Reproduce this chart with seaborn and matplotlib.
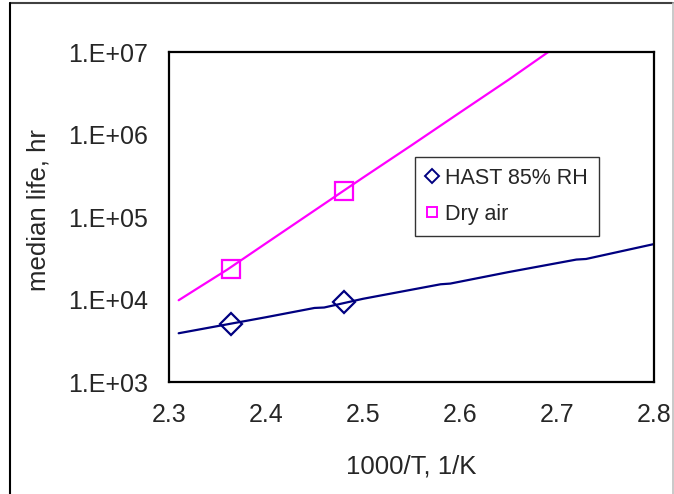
import matplotlib

matplotlib.use("Agg")
import matplotlib.pyplot as plt
import numpy as np
import seaborn as sns
from matplotlib.lines import Line2D
from matplotlib.ticker import FixedLocator, FuncFormatter, LogLocator, NullLocator

# model curves
hast_x = [2.31, 2.36, 2.40, 2.45, 2.46, 2.50, 2.58, 2.59, 2.65, 2.72, 2.73, 2.80]
hast_y = [3.9e3, 5.0e3, 6.1e3, 7.9e3, 8.0e3, 1.02e4, 1.53e4, 1.56e4, 2.15e4, 3.05e4, 3.1e4, 4.7e4]
dry_x = [2.31, 2.33, 2.36, 2.40, 2.45, 2.50, 2.55, 2.60, 2.65, 2.691]
dry_y = [9.8e3, 1.38e4, 2.3e4, 4.8e4, 1.2e5, 3.0e5, 7.4e5, 1.85e6, 4.6e6, 1.0e7]

# measured points
hast_pts_x = [2.364, 2.480]
hast_pts_y = [5.05e3, 9.3e3]
dry_pts_x = [2.364, 2.480]
dry_pts_y = [2.34e4, 2.07e5]

NAVY = "#000080"
MAGENTA = "#FF00FF"
FS_TICK = 18
FS_LABEL = 18.5
FS_LEGEND = 15.5

sns.set_style("white")
plt.rcParams["font.family"] = ["Liberation Sans", "DejaVu Sans"]

fig = plt.figure(figsize=(6.74, 4.94), dpi=100)
ax = fig.add_axes([0.2507, 0.2267, 0.7196, 0.668])

sns.lineplot(x=hast_x, y=hast_y, color=NAVY, linewidth=1.6, ax=ax, sort=False)
sns.lineplot(x=dry_x, y=dry_y, color=MAGENTA, linewidth=1.6, ax=ax, sort=False)
ax.plot(hast_pts_x, hast_pts_y, linestyle="none", marker="D", markersize=11,
        markerfacecolor="none", markeredgecolor=NAVY, markeredgewidth=1.6)
ax.plot(dry_pts_x, dry_pts_y, linestyle="none", marker="s", markersize=13,
        markerfacecolor="none", markeredgecolor=MAGENTA, markeredgewidth=1.6)

ax.set_yscale("log")
ax.set_xlim(2.3, 2.8)
ax.set_ylim(1e3, 1e7)
ax.xaxis.set_major_locator(FixedLocator([2.3, 2.4, 2.5, 2.6, 2.7, 2.8]))
ax.xaxis.set_minor_locator(NullLocator())
ax.xaxis.set_major_formatter(FuncFormatter(lambda v, p: f"{v:.1f}"))
ax.yaxis.set_major_locator(FixedLocator([1e3, 1e4, 1e5, 1e6, 1e7]))
ax.yaxis.set_minor_locator(LogLocator(base=10, subs=np.arange(2, 10)))
ax.yaxis.set_major_formatter(FuncFormatter(lambda v, p: f"1.E+{int(round(np.log10(v))):02d}"))

ax.tick_params(axis="both", which="major", direction="in", length=8, width=1.2,
               labelsize=FS_TICK, color="black", pad=15)
ax.tick_params(axis="y", which="minor", direction="in", length=6, width=1.0, color="black")
for s in ax.spines.values():
    s.set_visible(True)
    s.set_color("black")
    s.set_linewidth(1.6)

ax.set_xlabel("1000/T, 1/K", fontsize=FS_LABEL)
ax.set_ylabel("median life, hr", fontsize=FS_LABEL)
ax.xaxis.set_label_coords(0.5, -0.22)
ax.yaxis.set_label_coords(-0.245, 0.52)

handles = [
    Line2D([], [], linestyle="none", marker="D", markersize=7, markerfacecolor="none",
           markeredgecolor=NAVY, markeredgewidth=1.4, label="HAST 85% RH"),
    Line2D([], [], linestyle="none", marker="s", markersize=7, markerfacecolor="none",
           markeredgecolor=MAGENTA, markeredgewidth=1.4, label="Dry air"),
]
leg = ax.legend(handles=handles, loc="upper left", bbox_to_anchor=(0.507, 0.682),
                fontsize=FS_LEGEND, frameon=True, fancybox=False, shadow=False,
                handlelength=0.6, handletextpad=0.3, borderpad=0.5, labelspacing=0.7,
                borderaxespad=0)
leg.get_frame().set_edgecolor("black")
leg.get_frame().set_linewidth(1.0)

# outer frame of the chart area
fig.add_artist(Line2D([0.015, 0.998], [0.994, 0.994], transform=fig.transFigure, color="#404040", linewidth=1.5))
fig.add_artist(Line2D([0.015, 0.015], [0.0, 0.994], transform=fig.transFigure, color="black", linewidth=1.5))
fig.add_artist(Line2D([0.998, 0.998], [0.0, 0.994], transform=fig.transFigure, color="#c0c0c0", linewidth=1.2))

fig.savefig("out.png", dpi=100)
plt.close(fig)
